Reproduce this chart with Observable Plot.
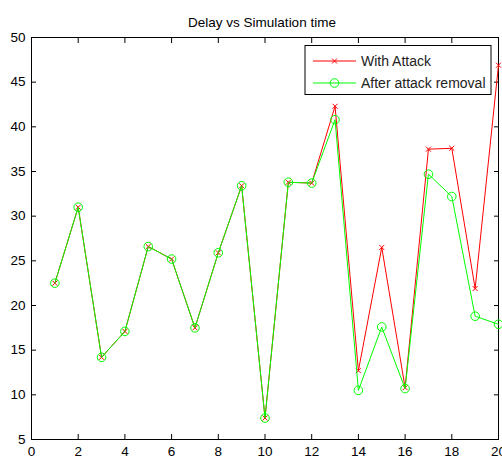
<!DOCTYPE html>
<html>
<head>
<meta charset="utf-8">
<script src="https://cdn.jsdelivr.net/npm/d3@7"></script>
<script src="https://cdn.jsdelivr.net/npm/@observablehq/plot@0.6"></script>
<style>
  body { margin: 0; background: #fff; }
  #chart { width: 502px; height: 460px; }
</style>
</head>
<body>
<div id="chart"></div>
<script>
// Delay measured at each simulation time step
const time = [1, 2, 3, 4, 5, 6, 7, 8, 9, 10, 11, 12, 13, 14, 15, 16, 17, 18, 19, 20];
const withAttack = [22.5, 31.0, 14.2, 17.1, 26.6, 25.2, 17.5, 25.9, 33.4, 7.4, 33.8, 33.7, 42.3, 12.7, 26.5, 10.8, 37.5, 37.6, 21.9, 46.9];
const afterRemoval = [22.5, 31.0, 14.2, 17.1, 26.6, 25.2, 17.5, 25.9, 33.4, 7.4, 33.8, 33.7, 40.8, 10.5, 17.6, 10.7, 34.7, 32.2, 18.8, 17.9];
const xTicks = [0, 2, 4, 6, 8, 10, 12, 14, 16, 18, 20];
const yTicks = [5, 10, 15, 20, 25, 30, 35, 40, 45, 50];
const seriesNames = ["With Attack", "After attack removal"];
const chartTitle = "Delay vs Simulation time";

const red = "#ff0000";
const green = "#00ff00";
const font = "'Liberation Sans', Arial, Helvetica, sans-serif";

const rows = time.map((t, i) => ({t, attack: withAttack[i], removed: afterRemoval[i]}));

const plot = Plot.plot({
  width: 502,
  height: 460,
  marginLeft: 31,
  marginRight: 4,
  marginTop: 37,
  marginBottom: 21,
  style: {fontFamily: font, fontSize: "13.5px", color: "#000", background: "#fff"},
  x: {domain: [0, 20]},
  y: {domain: [5, 50]},
  marks: [
    Plot.frame({stroke: "#000"}),
    // inward ticks on all four sides, labels on bottom and left only
    Plot.axisX(xTicks, {anchor: "bottom", tickSize: -5, tickPadding: 12, label: null}),
    Plot.axisX(xTicks, {anchor: "top", tickSize: -5, tickFormat: () => "", label: null}),
    Plot.axisY(yTicks, {anchor: "left", tickSize: -5, tickPadding: 11, label: null}),
    Plot.axisY(yTicks, {anchor: "right", tickSize: -5, tickFormat: () => "", label: null}),
    Plot.line(rows, {x: "t", y: "attack", stroke: red, strokeWidth: 1}),
    Plot.dot(rows, {x: "t", y: "attack", symbol: "times", r: 2.4, stroke: red, strokeWidth: 1}),
    Plot.line(rows, {x: "t", y: "removed", stroke: green, strokeWidth: 1}),
    Plot.dot(rows, {x: "t", y: "removed", symbol: "circle", r: 4.3, stroke: green, fill: "none", strokeWidth: 1}),
    Plot.text([chartTitle], {frameAnchor: "top", lineAnchor: "bottom", dy: -11, dx: -3, fontSize: 13.5, fill: "#000"})
  ]
});

document.getElementById("chart").appendChild(plot);

// Legend box in the upper right corner of the axes
const svg = d3.select(plot);
const lg = svg.append("g").attr("font-family", font).attr("font-size", 14).attr("text-anchor", "start");
lg.append("rect").attr("x", 305).attr("y", 45.5).attr("width", 186).attr("height", 49)
  .attr("fill", "#fff").attr("stroke", "#000");
const entries = [
  {name: seriesNames[0], color: red, symbol: d3.symbolTimes, size: 18},
  {name: seriesNames[1], color: green, symbol: d3.symbolCircle, size: Math.PI * 4.3 * 4.3}
];
entries.forEach((e, i) => {
  const cy = 61 + i * 22;
  lg.append("line").attr("x1", 313).attr("x2", 356).attr("y1", cy).attr("y2", cy)
    .attr("stroke", e.color).attr("stroke-width", 1);
  lg.append("path").attr("d", d3.symbol(e.symbol, e.size)())
    .attr("transform", `translate(334.5,${cy})`)
    .attr("fill", "none").attr("stroke", e.color);
  lg.append("text").attr("x", 361).attr("y", cy).attr("dy", "0.35em")
    .attr("fill", "#222").text(e.name);
});
</script>
</body>
</html>
